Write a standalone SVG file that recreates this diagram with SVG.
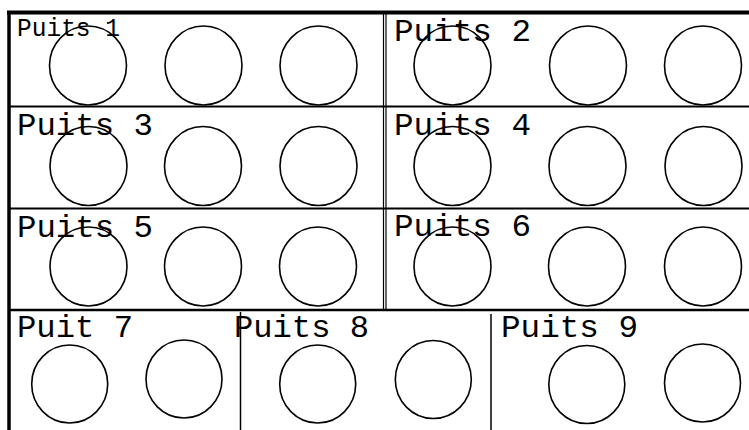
<svg xmlns="http://www.w3.org/2000/svg" width="749" height="430" viewBox="0 0 749 430">
<style>
.bg{fill:#fff}
.w{fill:none;stroke:#000;stroke-width:1.6}
.lbl{font-family:"Liberation Mono","Courier New",monospace;font-size:32px;fill:#000}
.sm{font-size:25px}
.frame{stroke:#000;fill:none}
</style>
<rect class="bg" x="0" y="0" width="749" height="430"/>
<g id="grid">
<line class="frame" x1="7" y1="12.5" x2="749" y2="12.5" stroke-width="4"/>
<line class="frame" x1="9" y1="11" x2="9" y2="430" stroke-width="3.5"/>
<line class="frame" x1="9" y1="106.5" x2="749" y2="106.5" stroke-width="2.2"/>
<line class="frame" x1="9" y1="208.5" x2="749" y2="208.5" stroke-width="2.2"/>
<line class="frame" x1="9" y1="310" x2="749" y2="310" stroke-width="2.5"/>
<line class="frame" x1="383.5" y1="13" x2="383.5" y2="309" stroke-width="1.2"/>
<line class="frame" x1="386" y1="13" x2="386" y2="309" stroke-width="1.2"/>
<line class="frame" x1="240.5" y1="312" x2="240.5" y2="430" stroke-width="1.5"/>
<line class="frame" x1="491" y1="314" x2="491" y2="430" stroke-width="1.5"/>
</g>
<g id="puits1">
<text class="lbl sm" x="17" y="36" textLength="103" lengthAdjust="spacingAndGlyphs">Puits 1</text>
<ellipse class="w" cx="88" cy="65.5" rx="38.5" ry="39.5"/>
<ellipse class="w" cx="203.5" cy="65.5" rx="38.5" ry="39.5"/>
<ellipse class="w" cx="318.5" cy="65.5" rx="38.5" ry="39.5"/>
</g>
<g id="puits2">
<text class="lbl" x="394" y="41" textLength="137" lengthAdjust="spacingAndGlyphs">Puits 2</text>
<ellipse class="w" cx="452.5" cy="65.5" rx="38.5" ry="39.5"/>
<ellipse class="w" cx="588" cy="65.5" rx="38.5" ry="39.5"/>
<ellipse class="w" cx="703" cy="65.5" rx="38.5" ry="39.5"/>
</g>
<g id="puits3">
<text class="lbl" x="17" y="135" textLength="136" lengthAdjust="spacingAndGlyphs">Puits 3</text>
<ellipse class="w" cx="88.5" cy="166" rx="38.5" ry="39.5"/>
<ellipse class="w" cx="203" cy="166" rx="38.5" ry="39.5"/>
<ellipse class="w" cx="318.5" cy="166" rx="38.5" ry="39.5"/>
</g>
<g id="puits4">
<text class="lbl" x="394" y="135" textLength="137" lengthAdjust="spacingAndGlyphs">Puits 4</text>
<ellipse class="w" cx="452.5" cy="166" rx="38.5" ry="39.5"/>
<ellipse class="w" cx="587.5" cy="166" rx="38.5" ry="39.5"/>
<ellipse class="w" cx="703.5" cy="166" rx="38.5" ry="39.5"/>
</g>
<g id="puits5">
<text class="lbl" x="17" y="236.5" textLength="136" lengthAdjust="spacingAndGlyphs">Puits 5</text>
<ellipse class="w" cx="88.5" cy="266.5" rx="38.5" ry="39.5"/>
<ellipse class="w" cx="203" cy="266.5" rx="38.5" ry="39.5"/>
<ellipse class="w" cx="318" cy="266.5" rx="38.5" ry="39.5"/>
</g>
<g id="puits6">
<text class="lbl" x="394" y="236" textLength="137" lengthAdjust="spacingAndGlyphs">Puits 6</text>
<ellipse class="w" cx="452.5" cy="266.5" rx="38.5" ry="39.5"/>
<ellipse class="w" cx="587" cy="266.5" rx="38.5" ry="39.5"/>
<ellipse class="w" cx="703" cy="266.5" rx="38.5" ry="39.5"/>
</g>
<g id="puits7">
<text class="lbl" x="17" y="337" textLength="116" lengthAdjust="spacingAndGlyphs">Puit 7</text>
<ellipse class="w" cx="69.7" cy="384" rx="38" ry="39"/>
<ellipse class="w" cx="184" cy="379" rx="38" ry="39"/>
</g>
<g id="puits8">
<text class="lbl" x="234" y="337" textLength="135" lengthAdjust="spacingAndGlyphs">Puits 8</text>
<ellipse class="w" cx="317.7" cy="384" rx="38" ry="39"/>
<ellipse class="w" cx="433.3" cy="379.5" rx="38" ry="39"/>
</g>
<g id="puits9">
<text class="lbl" x="501" y="337" textLength="137" lengthAdjust="spacingAndGlyphs">Puits 9</text>
<ellipse class="w" cx="586.8" cy="384.5" rx="38" ry="39"/>
<ellipse class="w" cx="702.5" cy="383" rx="38" ry="39"/>
</g>
</svg>
